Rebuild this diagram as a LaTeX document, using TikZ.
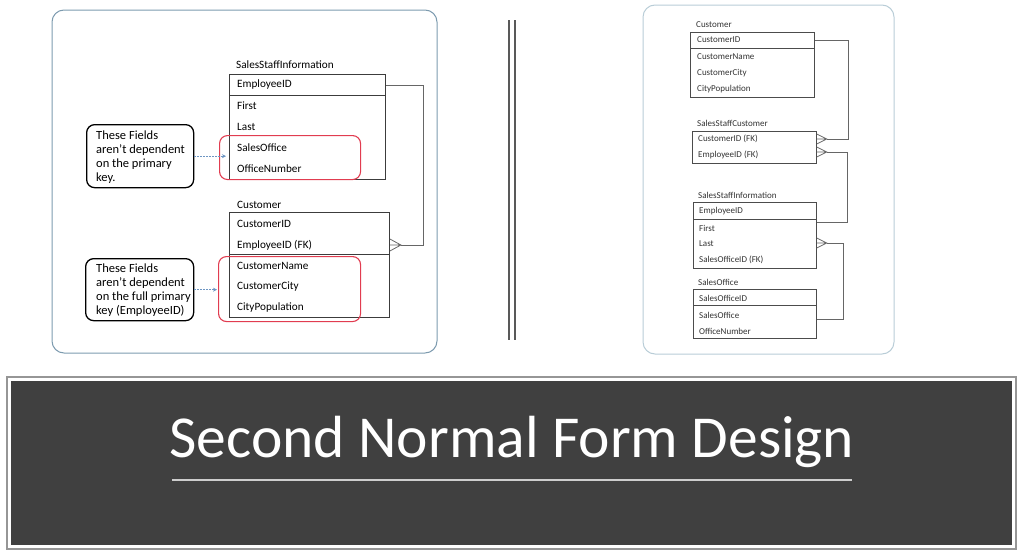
\documentclass[tikz,border=0pt]{standalone}
\usepackage{fontspec}
\setmainfont{Carlito}
\usetikzlibrary{arrows.meta}
\definecolor{panelblue}{RGB}{125,155,175}
\definecolor{panelpale}{RGB}{185,205,215}
\definecolor{tableline}{RGB}{60,60,60}
\definecolor{markred}{RGB}{225,60,80}
\definecolor{pointerblue}{RGB}{110,150,195}
\definecolor{slate}{RGB}{64,64,64}
\definecolor{framegray}{RGB}{150,150,150}
\definecolor{rulegray}{RGB}{205,205,205}
\tikzset{
  tablebox/.style = {draw = tableline, line width = 0.9pt, inner sep = 0, anchor = north west},
  smallbox/.style = {draw = black!70, line width = 0.7pt, inner sep = 0, anchor = north west},
  field/.style = {anchor = west, inner sep = 0, font = \fontsize{11.2}{13}\selectfont},
  smallfield/.style = {anchor = west, inner sep = 0, font = \fontsize{9}{10}\selectfont, text = black!80},
  note/.style = {draw, line width = 1.3pt, rounded corners = 8pt, inner sep = 0, anchor = north west},
  notetext/.style = {anchor = north west, inner sep = 0, align = left, font = \fontsize{12.5}{14}\selectfont},
  redmark/.style = {draw = markred, line width = 1.1pt, rounded corners = 8pt, inner sep = 0, anchor = north west},
  link/.style = {draw = black!60, line width = 0.8pt},
  pointer/.style = {draw = pointerblue, line width = 0.6pt, dash pattern = on 2pt off 1pt, -{Stealth[length = 4pt, width = 4pt]}}
}
\newcommand{\manyend}[3]{\draw [link] (#1) -- ++(#2, 0) (#1) ++(0, -#3) -- ++(#2, #3) -- ++(-#2, #3);}
\begin{document}
\begin{tikzpicture}[x = 1pt, y = -1pt]
        \useasboundingbox (0,0) rectangle (1024,554);
        \draw [panelblue, line width = 1pt, rounded corners = 12pt] (52,10) rectangle (437,353);
        \draw [panelpale, line width = 1pt, rounded corners = 12pt] (643,5) rectangle (894,354);
        \draw [black!65, line width = 2pt] (509,20) -- (509,340);
        \draw [black!65, line width = 2pt] (515,20) -- (515,340);
        \node [field, anchor = south west] (staffLtitle) at (236,69) {SalesStaffInformation};
        \node [tablebox, minimum width = 156, minimum height = 105] (staffL) at (229,74) {};
        \draw [tableline, line width = 0.9pt] (229,95) -- (385,95);
        \node [field] (staffLemp) at (237,85) {EmployeeID};
        \node [field] (staffLfirst) at (237,106) {First};
        \node [field] (staffLlast) at (237,127) {Last};
        \node [field] (staffLoffice) at (237,148) {SalesOffice};
        \node [field] (staffLnumber) at (237,169) {OfficeNumber};
        \node [field, anchor = south west] (custLtitle) at (237,209) {Customer};
        \node [tablebox, minimum width = 160, minimum height = 105] (custL) at (229,212) {};
        \draw [tableline, line width = 0.9pt] (229,254) -- (389,254);
        \node [field] (custLid) at (237,224) {CustomerID};
        \node [field] (custLfk) at (237,245) {EmployeeID (FK)};
        \node [field] (custLname) at (237,266) {CustomerName};
        \node [field] (custLcity) at (237,287) {CustomerCity};
        \node [field] (custLpop) at (237,308) {CityPopulation};
        \coordinate (custLend) at (custLfk -| custL.east);
        \draw [link] (staffLemp -| staffL.east) -- ++(37,0) |- ([xshift = 11pt] custLend);
        \manyend{custLend}{11}{6}
        \node [redmark, minimum width = 141, minimum height = 44] (redA) at (219,135) {};
        \node [redmark, minimum width = 142, minimum height = 65] (redB) at (218,256) {};
        \node [note, minimum width = 107, minimum height = 63] (noteA) at (86,124) {};
        \node [notetext] at (96,131) {These Fields\\aren't dependent\\on the primary\\key.};
        \node [note, minimum width = 108, minimum height = 62] (noteB) at (85,258) {};
        \node [notetext] at (96,264) {These Fields\\aren't dependent\\on the full primary\\key (EmployeeID)};
        \draw [pointer] (noteA.east) -- ([xshift = -3pt] noteA.east -| staffL.west);
        \draw [pointer] (noteB.east) -- ([xshift = -1pt] noteB.east -| redB.west);
        \node [smallfield, anchor = south west] (custRtitle) at (696,28) {Customer};
        \node [smallbox, minimum width = 124, minimum height = 65] (custR) at (690,32) {};
        \draw [black!70, line width = 0.7pt] (690,48) -- (814,48);
        \node [smallfield] (custRid) at (697,40) {CustomerID};
        \node [smallfield] (custRname) at (697,57) {CustomerName};
        \node [smallfield] (custRcity) at (697,73) {CustomerCity};
        \node [smallfield] (custRpop) at (697,89) {CityPopulation};
        \node [smallfield, anchor = south west] (linkRtitle) at (697,127) {SalesStaffCustomer};
        \node [smallbox, minimum width = 124, minimum height = 32] (linkR) at (692,131) {};
        \node [smallfield] (linkRcust) at (698,139) {CustomerID (FK)};
        \node [smallfield] (linkRemp) at (698,155) {EmployeeID (FK)};
        \node [smallfield, anchor = south west] (staffRtitle) at (698,199) {SalesStaffInformation};
        \node [smallbox, minimum width = 123, minimum height = 66] (staffR) at (693,202) {};
        \draw [black!70, line width = 0.7pt] (693,219) -- (816,219);
        \node [smallfield] (staffRemp) at (699,211) {EmployeeID};
        \node [smallfield] (staffRfirst) at (699,228) {First};
        \node [smallfield] (staffRlast) at (699,244) {Last};
        \node [smallfield] (staffRoffice) at (699,260) {SalesOfficeID (FK)};
        \node [smallfield, anchor = south west] (officeRtitle) at (698,286) {SalesOffice};
        \node [smallbox, minimum width = 123, minimum height = 49] (officeR) at (693,289) {};
        \draw [black!70, line width = 0.7pt] (693,305) -- (816,305);
        \node [smallfield] (officeRid) at (699,298) {SalesOfficeID};
        \node [smallfield] (officeRname) at (699,315) {SalesOffice};
        \node [smallfield] (officeRnumber) at (699,331) {OfficeNumber};
        \coordinate (linkRone) at (linkR.east |- 0,139);
        \coordinate (linkRtwo) at (linkR.east |- 0,152);
        \coordinate (staffRend) at (staffR.east |- 0,243);
        \draw [link] (custRid -| custR.east) -- (848,40) |- ([xshift = 10pt] linkRone);
        \manyend{linkRone}{10}{5}
        \draw [link] ([xshift = 10pt] linkRtwo) -- (847,152) |- (staffR.east |- 0,222);
        \manyend{linkRtwo}{10}{5}
        \draw [link] ([xshift = 10pt] staffRend) -- (843,243) |- (officeR.east |- 0,319);
        \manyend{staffRend}{10}{5}
        \draw [framegray, line width = 1.2pt, fill = white] (7,377) rectangle (1016,549);
        \fill [slate] (11,381) rectangle (1012,545);
        \node [text = white, anchor = base, inner sep = 0, font = \fontsize{59.5}{62}\selectfont] (heading) at (512,457) {Second Normal Form Design};
        \draw [rulegray, line width = 2pt] (172,480) -- (852,480);
    \end{tikzpicture}
\end{document}
